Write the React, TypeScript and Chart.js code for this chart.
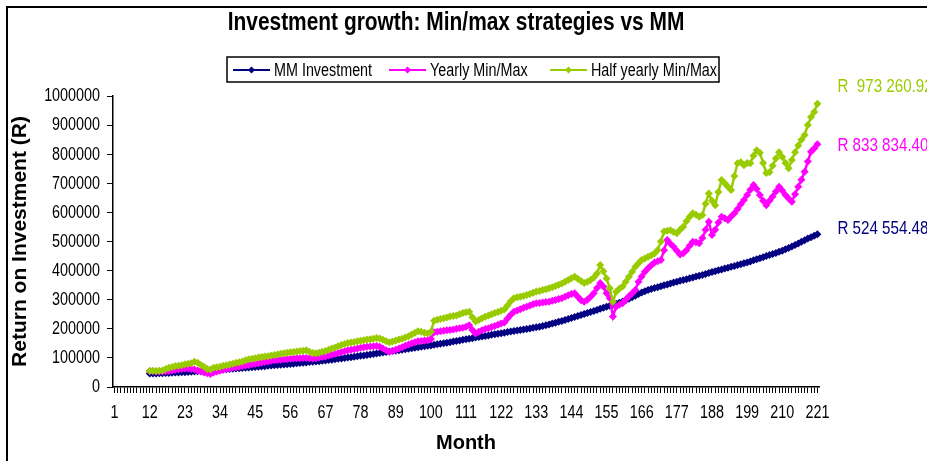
import { useEffect, useRef } from 'react';
import { Chart, registerables } from 'chart.js';

Chart.register(...registerables);

// Categories: month 1..221
const months: string[] = Array.from({ length: 221 }, (_, i) => String(i + 1));
const tickLabels = ['1', '12', '23', '34', '45', '56', '67', '78', '89', '100', '111', '122', '133', '144', '155', '166', '177', '188', '199', '210', '221'];
const yTicks = [0, 100000, 200000, 300000, 400000, 500000, 600000, 700000, 800000, 900000, 1000000];

const seriesNames = ['MM Investment', 'Yearly Min/Max', 'Half yearly Min/Max'];
const seriesColors = ['#000080', '#FF00FF', '#99CC00'];
const endLabels = ['R 524 554.48', 'R 833 834.40', 'R  973 260.92'];

// Values in thousands of Rand, months 12..221 (aligned to month 221 at the end)
const mmK = [
  46, 46.4, 46.8, 47.2, 47.6, 48,
  48.5, 49, 49.5, 50, 50.5, 51,
  51.7, 52.4, 53.1, 53.9, 54.6, 55.3, 56, 56.7, 57.4, 58.2, 59,
  59.9, 60.8, 61.7, 62.6, 63.5, 64.4, 65.3, 66.2, 67.2, 68.1, 69,
  69.9, 70.8, 71.7, 72.6, 73.5, 74.5, 75.4, 76.3, 77.2, 78.1, 79,
  80.1, 81.2, 82.3, 83.4, 84.5, 85.6, 86.7, 87.8, 88.9, 90, 91,
  92.5, 93.9, 95.4, 96.8, 98.3, 99.7, 101.2, 102.6, 104.1, 105.5, 107,
  108.6, 110.3, 111.9, 113.5, 115.2, 116.8, 118.5, 120.1, 121.7, 123.4, 125,
  126.6, 128.3, 129.9, 131.5, 133.2, 134.8, 136.5, 138.1, 139.7, 141.4, 143,
  144.8, 146.7, 148.5, 150.3, 152.2, 154,
  156, 158, 160, 162, 164,
  165.9, 167.8, 169.7, 171.5,
  173.4, 175.3, 177.3, 179.2, 181.2, 183.1, 185,
  186.8, 188.6, 190.5, 192.3, 194.1, 195.9, 197.7, 199.5, 201.4, 203.2, 205,
  207.4, 209.9, 212.5, 215.2, 218, 220.9, 223.9, 227.1, 230.4, 233.8, 237,
  240.5, 244, 247.5, 251, 254.5, 258,
  261.5, 265, 268.5, 272, 275.5,
  279, 282.5, 286, 289.5, 293,
  298, 303, 308.5, 314, 319.5, 325,
  329, 333, 336.5, 340,
  343.2, 346.3, 349.5, 352.6, 355.7, 358.9, 362,
  364.9, 367.8, 370.6, 373.5, 376.4, 379.3, 382.1, 385,
  388.3, 391.7, 395,
  398, 401, 404, 407, 410, 413, 416, 419, 422, 425, 428,
  431.6, 435.3, 438.9, 442.5, 446.2, 449.8, 453.5, 457.1, 460.7, 464.4, 468,
  473, 478, 483, 488, 493.5, 499, 504.5, 510, 515, 520, 524.55,
];

const yearlyK = [
  55, 54, 53, 53, 53, 54, 55, 57, 59, // 12-20
  61, 62, 64, 64, 62, 60, 57, 53, 50, 47, // 21-30
  45, 50, 53, 56, 59, 62, 64, 66, 68, 70, // 31-40
  72, 74, 76, 78, 80, 82, 84, 86, 88, 90, // 41-50
  92, 93, 94, 95, 96, 97, 98, 99, 99, 100, // 51-60
  100, 99, 98, 99, 101, 103, 105, 108, 111, 114, // 61-70
  117, 120, 123, 126, 128, 130, 132, 135, 137, 138, // 71-80
  139, 140, 141, 138, 132, 126, 121, 124, 128, 132, // 81-90
  137, 142, 146, 150, 154, 157, 158, 160, 161, 165, // 91-100
  188, 190, 192, 193, 195, 196, 198, 200, 202, 204, // 101-110
  207, 212, 196, 184, 190, 195, 199, 202, 206, 210, // 111-120
  214, 218, 222, 235, 248, 259, 263, 267, 272, 276, // 121-130
  280, 284, 288, 289, 290, 292, 293, 296, 299, 302, // 131-140
  305, 310, 315, 320, 322, 310, 298, 293, 300, 310, // 141-150
  322, 340, 357, 345, 322, 305, 242, 276, 283, 288, // 151-160
  300, 312, 322, 333, 362, 380, 396, 408, 418, 428, // 161-170
  432, 436, 470, 505, 492, 482, 468, 455, 460, 470, // 171-180
  485, 499, 497, 494, 512, 540, 568, 522, 540, 565, // 181-190
  585, 580, 574, 586, 597, 612, 628, 643, 660, 678, // 191-200
  694, 680, 660, 640, 625, 640, 655, 672, 688, 675, // 201-210
  660, 648, 637, 662, 688, 712, 740, 775, 808, 820, // 211-220
  833.83, // 221
];

const halfYearlyK = [
  55, 55.5, 55, 56, 57, 62, 66, 69, 72, // 12-20
  73, 75, 78, 80, 82, 87, 83, 76, 70, 62, // 21-30
  60, 66, 68, 70, 73, 75, 77, 80, 83, 85, // 31-40
  88, 92, 95, 97, 99, 101, 103, 105, 106, 108, // 41-50
  110, 112, 114, 116, 118, 119, 120, 122, 124, 125, // 51-60
  126, 121, 117, 116, 118, 121, 124, 128, 132, 136, // 61-70
  140, 144, 148, 151, 153, 155, 157, 159, 161, 163, // 71-80
  164, 166, 168, 167, 162, 157, 154, 156, 160, 163, // 81-90
  166, 170, 174, 180, 186, 192, 190, 186, 184, 190, // 91-100
  228, 231, 234, 236, 239, 242, 244, 246, 250, 254, // 101-110
  257, 259, 240, 225, 230, 236, 241, 246, 250, 254, // 111-120
  258, 262, 266, 280, 295, 305, 308, 310, 313, 316, // 121-130
  320, 324, 328, 330, 333, 336, 339, 343, 347, 351, // 131-140
  356, 362, 368, 374, 379, 372, 364, 357, 362, 368, // 141-150
  376, 390, 419, 398, 373, 339, 293, 327, 338, 345, // 151-160
  362, 379, 396, 413, 425, 436, 442, 448, 453, 459, // 161-170
  471, 500, 534, 537, 539, 533, 528, 540, 551, 570, // 171-180
  585, 597, 592, 585, 591, 630, 665, 640, 625, 670, // 181-190
  711, 700, 688, 677, 725, 769, 772, 762, 770, 769, // 191-200
  795, 814, 805, 770, 735, 738, 760, 785, 807, 790, // 201-210
  770, 752, 780, 807, 830, 850, 866, 900, 928, 945, // 211-220
  973.26, // 221
];

const FONT = "'Liberation Sans', Arial, sans-serif";
const NARROW = 0.82;

const toSeries = (arr: number[]) => {
  const lead: (number | null)[] = new Array(months.length - arr.length).fill(null);
  return lead.concat(arr.map((v) => v * 1000));
};

function narrowText(
  ctx: CanvasRenderingContext2D,
  text: string,
  x: number,
  y: number,
  font: string,
  align: CanvasTextAlign,
  color: string,
) {
  ctx.save();
  ctx.translate(x, y);
  ctx.scale(NARROW, 1);
  ctx.font = font;
  ctx.textAlign = align;
  ctx.textBaseline = 'middle';
  ctx.fillStyle = color;
  ctx.fillText(text, 0, 0);
  ctx.restore();
}

const decorPlugin = {
  id: 'decor',
  afterDraw(chart: any) {
    const ctx = chart.ctx as CanvasRenderingContext2D;
    ctx.save();
    // outer frame (left and top visible)
    ctx.strokeStyle = '#000';
    ctx.lineWidth = 2;
    ctx.beginPath();
    ctx.moveTo(7, 470);
    ctx.lineTo(7, 7);
    ctx.lineTo(940, 7);
    ctx.stroke();

    // title
    narrowText(ctx, 'Investment growth: Min/max strategies vs MM', 456, 23, `bold 25.5px ${FONT}`, 'center', '#000');

    // axis tick labels (condensed)
    const xs = chart.scales.x;
    const ys = chart.scales.y;
    const tickFont = `17.5px ${FONT}`;
    months.forEach((m, i) => {
      if (tickLabels.indexOf(m) >= 0) {
        narrowText(ctx, m, xs.getPixelForValue(i), 413, tickFont, 'center', '#000');
      }
    });
    yTicks.forEach((v) => {
      narrowText(ctx, String(v), 100, ys.getPixelForValue(v) + 0.5, tickFont, 'right', '#000');
    });

    // legend
    ctx.lineWidth = 1.5;
    ctx.strokeStyle = '#000';
    ctx.fillStyle = '#fff';
    ctx.fillRect(227, 57, 492, 25);
    ctx.strokeRect(227, 57, 492, 25);
    const starts = [233, 389, 550];
    for (let i = 0; i < 3; i++) {
      const x = starts[i];
      const y = 70;
      ctx.strokeStyle = seriesColors[i];
      ctx.lineWidth = 2;
      ctx.beginPath();
      ctx.moveTo(x, y);
      ctx.lineTo(x + 37, y);
      ctx.stroke();
      ctx.fillStyle = seriesColors[i];
      const cx = x + 18.5;
      ctx.beginPath();
      ctx.moveTo(cx, y - 3.5);
      ctx.lineTo(cx + 3.5, y);
      ctx.lineTo(cx, y + 3.5);
      ctx.lineTo(cx - 3.5, y);
      ctx.closePath();
      ctx.fill();
      narrowText(ctx, seriesNames[i], x + 41, y + 1, `17.5px ${FONT}`, 'left', '#000');
    }

    // end value labels
    const offsets = [-5, 2, -17];
    for (let i = 0; i < 3; i++) {
      const meta = chart.getDatasetMeta(i);
      const pt = meta.data[meta.data.length - 1];
      if (!pt) continue;
      narrowText(ctx, endLabels[i], pt.x + 20, pt.y + offsets[i], `18.5px ${FONT}`, 'left', seriesColors[i]);
    }
    ctx.restore();
  },
};

export default function App() {
  const canvasRef = useRef<HTMLCanvasElement | null>(null);

  useEffect(() => {
    const canvas = canvasRef.current;
    if (!canvas) return;
    const datasets = [mmK, yearlyK, halfYearlyK].map((arr, i) => ({
      label: seriesNames[i],
      data: toSeries(arr),
      borderColor: seriesColors[i],
      backgroundColor: seriesColors[i],
      pointBackgroundColor: seriesColors[i],
      pointBorderColor: seriesColors[i],
      borderWidth: 2.5,
      pointRadius: 4,
      pointBorderWidth: 0,
      pointStyle: 'rectRot' as const,
      tension: 0,
      order: 3 - i,
    }));
    const chart = new Chart(canvas, {
      type: 'line',
      data: { labels: months, datasets },
      options: {
        animation: false,
        responsive: false,
        maintainAspectRatio: false,
        layout: { padding: { top: 96, right: 108, bottom: 0, left: 0 } },
        plugins: {
          legend: { display: false },
          title: { display: false },
          tooltip: { enabled: false },
        },
        scales: {
          x: {
            type: 'category',
            offset: true,
            grid: { display: true, drawOnChartArea: false, drawTicks: true, tickLength: 6, color: '#000', lineWidth: 1 },
            border: { display: true, color: '#000', width: 1.5 },
            ticks: {
              autoSkip: false,
              maxRotation: 0,
              minRotation: 0,
              padding: 11,
              color: 'rgba(0,0,0,0)',
              font: { family: FONT, size: 14.5 },
              callback: () => '',
            },
            title: {
              display: true,
              text: 'Month',
              color: '#000',
              font: { family: FONT, size: 20, weight: 'bold' },
              padding: { top: 0, bottom: 6 },
            },
            afterFit: (s: any) => {
              s.height = 74;
            },
          },
          y: {
            min: 0,
            max: 1000000,
            afterBuildTicks: (s: any) => {
              s.ticks = yTicks.map((v) => ({ value: v }));
            },
            grid: { display: true, drawOnChartArea: false, drawTicks: true, tickLength: 6, color: '#000' },
            border: { display: true, color: '#000', width: 1.5 },
            ticks: {
              padding: 7,
              color: 'rgba(0,0,0,0)',
              font: { family: FONT, size: 14.5 },
              callback: () => '',
            },
            title: {
              display: true,
              text: 'Return on Investment (R)',
              color: '#000',
              font: { family: FONT, size: 21, weight: 'bold' },
              padding: { top: 8, bottom: 0 },
            },
            afterFit: (s: any) => {
              s.width = 113;
            },
          },
        },
      } as any,
      plugins: [decorPlugin],
    });
    return () => chart.destroy();
  }, []);

  return (
    <div style={{ position: 'fixed', left: 0, top: 0, width: 927, height: 461, background: '#fff' }}>
      <canvas ref={canvasRef} width={927} height={461} style={{ width: 927, height: 461, display: 'block' }} />
    </div>
  );
}
